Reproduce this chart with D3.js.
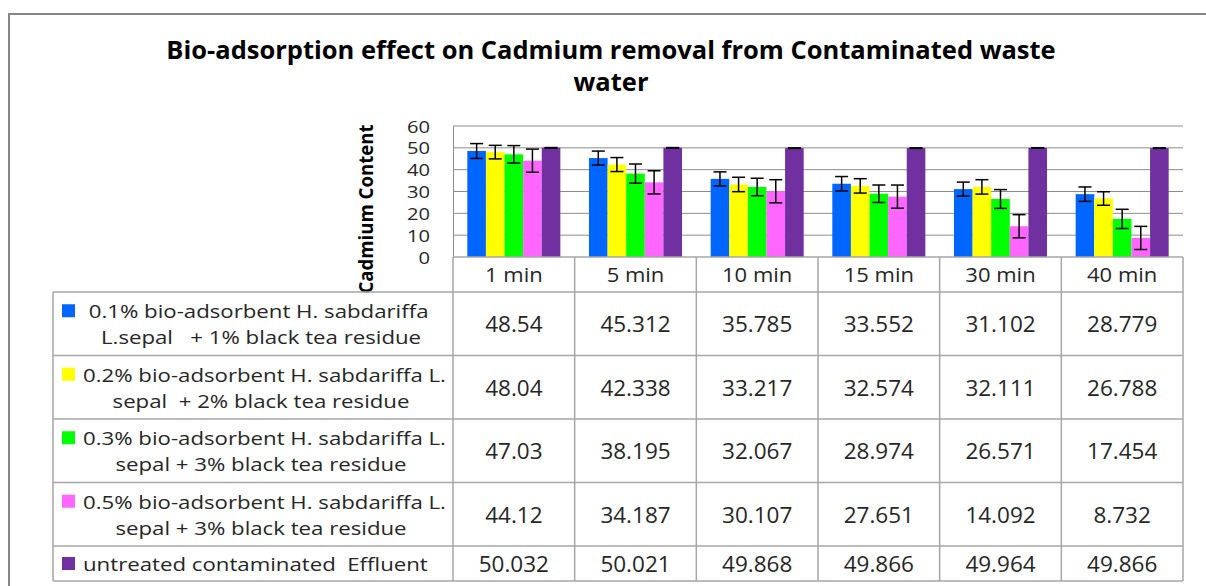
<!DOCTYPE html>
<html>
<head>
  <meta charset="utf-8">
  <script src="https://d3js.org/d3.v7.min.js"></script>
  <style>
    body { margin: 0; background: #fff; }
    text { font-family: "Open Sans", sans-serif; fill: #262626; }
    .pre { white-space: pre; }
  </style>
</head>
<body>
<script>
// --- data ---
var categories = ["1 min", "5 min", "10 min", "15 min", "30 min", "40 min"];
var seriesNames = ["s01", "s02", "s03", "s05", "untreated"];

var s01 = [48.54, 45.312, 35.785, 33.552, 31.102, 28.779];
var s02 = [48.04, 42.338, 33.217, 32.574, 32.111, 26.788];
var s03 = [47.03, 38.195, 32.067, 28.974, 26.571, 17.454];
var s05 = [44.12, 34.187, 30.107, 27.651, 14.092, 8.732];
var untreated = [50.032, 50.021, 49.868, 49.866, 49.964, 49.866];

// error bar half-lengths (estimated)
var err01 = [3.4, 3.2, 3.2, 3.3, 3.2, 3.3];
var err02 = [3.1, 3.2, 3.3, 3.3, 3.3, 3.1];
var err03 = [4.0, 4.4, 4.0, 4.0, 4.3, 4.4];
var err05 = [5.3, 5.3, 5.3, 5.3, 5.3, 5.3];
var errUntreated = [0.1, 0.1, 0.1, 0.1, 0.1, 0.1];

var legendLines = [
  [" 0.1% bio-adsorbent H. sabdariffa", "L.sepal   + 1% black tea residue"],
  ["0.2% bio-adsorbent H. sabdariffa L.", "sepal  + 2% black tea residue"],
  ["0.3% bio-adsorbent H. sabdariffa L.", "sepal + 3% black tea residue"],
  ["0.5% bio-adsorbent H. sabdariffa L.", "sepal + 3% black tea residue"],
  ["untreated contaminated  Effluent"]
];
var yTicks = [0, 10, 20, 30, 40, 50, 60];
var colors = ["#0066ff", "#ffff00", "#00ff00", "#ff66ff", "#7030a0"];

var values = [s01, s02, s03, s05, untreated];
var errors = [err01, err02, err03, err05, errUntreated];

// --- layout ---
var W = 1206, H = 586;
var plotLeft = 453, plotRight = 1183, plotTop = 126, plotBottom = 257;
var tableLeft = 53;
var rowEdges = [292, 355.5, 419, 482.5, 546, 581];
var gridColor = "#8c8c8c", tableColor = "#a6a6a6";

var svg = d3.select("body").append("svg")
    .attr("width", W)
    .attr("height", H);

// text that is a bit wider than the font draws it (the original is stretched)
function wideText(parent, x, y, s, size, anchor, str, extra) {
  var t = parent.append("text")
      .attr("class", "pre")
      .attr("transform", "translate(" + x + "," + y + ")" + (extra || "") + " scale(" + s + ",1)")
      .attr("text-anchor", anchor)
      .attr("dominant-baseline", "central")
      .style("font-size", size + "px")
      .text(str);
  return t;
}

// outer chart frame
svg.append("path")
    .attr("d", "M9," + H + "V14H" + W)
    .attr("fill", "none")
    .attr("stroke", "#868686")
    .attr("stroke-width", 2);

// title
wideText(svg, 611, 49, 1.02, 25, "middle",
    "Bio-adsorption effect on Cadmium removal from Contaminated waste")
  .style("font-weight", "bold").style("fill", "#000");
wideText(svg, 611, 81, 1.02, 25, "middle", "water")
  .style("font-weight", "bold").style("fill", "#000");

var x0 = d3.scaleBand().domain(categories).range([plotLeft, plotRight]);
var x1 = d3.scaleBand().domain(seriesNames).range([0, x0.bandwidth()]).paddingOuter(0.77);
var y = d3.scaleLinear().domain([0, 60]).range([plotBottom, plotTop]);

// gridlines
svg.append("g")
  .selectAll("line")
  .data(yTicks.filter(function(d) { return d > 0; }))
  .enter().append("line")
    .attr("x1", plotLeft).attr("x2", plotRight)
    .attr("y1", function(d) { return y(d); })
    .attr("y2", function(d) { return y(d); })
    .attr("stroke", gridColor).attr("stroke-width", 1);

// y axis
var yAxis = svg.append("g")
    .attr("transform", "translate(" + plotLeft + ",0)")
    .call(d3.axisLeft(y).tickValues(yTicks).tickSize(0));
yAxis.select(".domain").attr("stroke", gridColor);
yAxis.selectAll("text")
    .attr("x", null).attr("dy", null)
    .attr("dominant-baseline", "central")
    .attr("transform", "translate(-23,0) scale(1.3,1)")
    .style("font-family", "Open Sans, sans-serif")
    .style("font-size", "15.5px")
    .attr("fill", "#262626");

wideText(svg, 366, 209, 0.98, 19, "middle", "Cadmium Content", " rotate(-90)")
  .style("font-weight", "bold").style("fill", "#000");

// bars
var groups = svg.append("g").selectAll("g")
    .data(seriesNames)
    .enter().append("g");

groups.each(function(name, si) {
  var g = d3.select(this);
  var bars = categories.map(function(c, ci) {
    return { cat: c, v: values[si][ci], e: errors[si][ci] };
  });
  g.selectAll("rect").data(bars).enter().append("rect")
      .attr("x", function(d) { return x0(d.cat) + x1(name); })
      .attr("width", x1.bandwidth())
      .attr("y", function(d) { return y(d.v); })
      .attr("height", function(d) { return y(0) - y(d.v); })
      .attr("fill", colors[si]);

  var cx = function(d) { return x0(d.cat) + x1(name) + x1.bandwidth() / 2; };
  var eb = g.selectAll(".err").data(bars).enter().append("g")
      .attr("class", "err")
      .attr("stroke", "#000").attr("stroke-width", 1.5);
  eb.append("line")
      .attr("x1", cx).attr("x2", cx)
      .attr("y1", function(d) { return y(d.v + d.e); })
      .attr("y2", function(d) { return y(d.v - d.e); });
  [1, -1].forEach(function(sign) {
    eb.append("line")
        .attr("x1", function(d) { return cx(d) - 6.5; })
        .attr("x2", function(d) { return cx(d) + 6.5; })
        .attr("y1", function(d) { return y(d.v + sign * d.e); })
        .attr("y2", function(d) { return y(d.v + sign * d.e); });
  });
});

// data table
var table = svg.append("g");
var colEdges = categories.map(function(c) { return x0(c); }).concat([plotRight]);

table.append("line")
    .attr("x1", plotLeft).attr("x2", plotRight)
    .attr("y1", plotBottom).attr("y2", plotBottom)
    .attr("stroke", tableColor).attr("stroke-width", 1.5);
table.selectAll(".hl").data(rowEdges).enter().append("line")
    .attr("class", "hl")
    .attr("x1", tableLeft).attr("x2", plotRight)
    .attr("y1", function(d) { return d; }).attr("y2", function(d) { return d; })
    .attr("stroke", tableColor).attr("stroke-width", 1.5);
table.selectAll(".vl").data(colEdges).enter().append("line")
    .attr("class", "vl")
    .attr("x1", function(d) { return d; }).attr("x2", function(d) { return d; })
    .attr("y1", plotBottom).attr("y2", rowEdges[rowEdges.length - 1])
    .attr("stroke", tableColor).attr("stroke-width", 1.5);
table.append("line")
    .attr("x1", tableLeft).attr("x2", tableLeft)
    .attr("y1", rowEdges[0]).attr("y2", rowEdges[rowEdges.length - 1])
    .attr("stroke", tableColor).attr("stroke-width", 1.5);

// header labels
categories.forEach(function(c) {
  wideText(table, x0(c) + x0.bandwidth() / 2, (plotBottom + rowEdges[0]) / 2,
      1.1, 20, "middle", c);
});

// rows
seriesNames.forEach(function(name, si) {
  var top = rowEdges[si], bottom = rowEdges[si + 1];
  var mid = (top + bottom) / 2;
  var lines = legendLines[si];
  var line1Y = lines.length > 1 ? mid - 13 : mid;

  table.append("rect")
      .attr("x", 62).attr("y", line1Y - 6.5)
      .attr("width", 13).attr("height", 13)
      .attr("fill", colors[si]);
  wideText(table, 83, line1Y, 1.17, 19, "start", lines[0]);
  if (lines.length > 1) {
    wideText(table, 261, mid + 13, 1.17, 19, "middle", lines[1]);
  }

  values[si].forEach(function(v, i) {
    wideText(table, x0(categories[i]) + x0.bandwidth() / 2, mid, 1.0, 22.5, "middle", String(v));
  });
});
</script>
</body>
</html>
